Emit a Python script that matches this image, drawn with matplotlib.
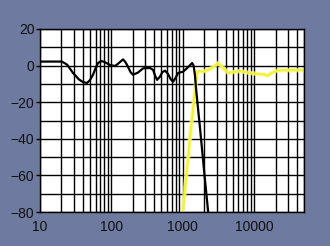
import matplotlib
matplotlib.use("Agg")
import matplotlib.pyplot as plt
from matplotlib.ticker import LogLocator, MultipleLocator, FixedLocator, NullFormatter

# black curve (Hz, dB)
black_f = [10, 15, 20.3, 24, 29, 35, 40, 45.6, 50, 55.3, 60, 65, 71.7, 80,
           95.9, 112.7, 122, 132.5, 145.9, 158, 171.4, 185, 201, 236, 278,
           349, 385, 410, 438, 480, 520, 567, 620, 680, 733, 800, 861, 1013,
           1140, 1271, 1356, 1420, 1480, 1540, 1754, 1998, 2270, 2400]
black_db = [2.2, 2.2, 2.2, 0.5, -4, -7.5, -9, -9.5, -8, -5, -1.5, 1.4, 2.5, 2,
            0.3, -0.2, 0.8, 2, 3.4, 1.8, -0.7, -3.5, -5, -3.8, -1.5,
            -1.3, -2.4, -5.5, -7.8, -6, -3.5, -2.8, -4.5, -7.5, -8.8, -6.5, -4, -3.3,
            -1.5, 0.3, 1.4, 0, -5, -13, -35, -58, -80, -90]

# yellow curve (Hz, dB)
yellow_f = [1000, 1150, 1313, 1493, 1593, 1700, 1871, 2271, 2668, 3135, 3687,
            4333, 5434, 6384, 8003, 11420, 14330, 15500, 16800, 19800, 23000,
            30000, 50000]
yellow_db = [-80, -56, -33, -13, -3.5, -3, -3.3, -2.4, -0.8, 1.4, -1.3,
             -4, -3.3, -3, -3.8, -4.6, -5, -5.5, -4.5, -3, -2.6,
             -2.5, -2.5]

x_ticks = [10, 100, 1000, 10000]
x_labels = ["10", "100", "1000", "10000"]
y_ticks = [20, 0, -20, -40, -60, -80]

bg = "#6e7aa0"
fig = plt.figure(figsize=(3.3, 2.46), dpi=100, facecolor=bg)
ax = fig.add_axes([40 / 330, 34 / 246, 264 / 330, 183 / 246])
ax.set_facecolor("white")

ax.set_xscale("log")
ax.set_xlim(10, 50000)
ax.set_ylim(-80, 20)

ax.xaxis.set_major_locator(FixedLocator(x_ticks))
ax.set_xticklabels(x_labels)
ax.xaxis.set_minor_locator(LogLocator(base=10, subs=range(2, 10)))
ax.xaxis.set_minor_formatter(NullFormatter())
ax.yaxis.set_major_locator(FixedLocator(y_ticks))
ax.yaxis.set_minor_locator(MultipleLocator(10))

ax.grid(True, which="both", color="black", linewidth=1.0)
ax.set_axisbelow(True)

ax.plot(black_f, black_db, color="black", linewidth=1.6, zorder=3,
        solid_joinstyle="round")
ax.plot(yellow_f, yellow_db, color="#fafa8c", linewidth=3.2, alpha=0.7, zorder=2,
        solid_joinstyle="round")
ax.plot(yellow_f, yellow_db, color="#f2f23c", linewidth=1.6, zorder=2,
        solid_joinstyle="round")

for s in ax.spines.values():
    s.set_color("black")
    s.set_linewidth(1.0)

ax.tick_params(axis="x", which="both", length=0, pad=6, labelsize=10)
ax.tick_params(axis="y", which="major", length=3, width=1, pad=1, labelsize=10)
ax.tick_params(axis="y", which="minor", length=0)
for lab in ax.get_xticklabels() + ax.get_yticklabels():
    lab.set_fontfamily("Liberation Sans")
    lab.set_color("#111111")

fig.savefig("out.png", dpi=100, facecolor=bg)
